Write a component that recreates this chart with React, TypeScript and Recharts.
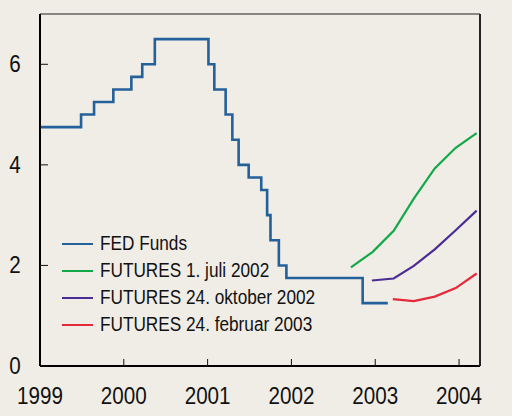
import React from 'react';
import { LineChart, Line, XAxis, YAxis, ReferenceLine } from 'recharts';

// decimal years
const fedX = [1999.0, 1999.49, 1999.645, 1999.875, 2000.09, 2000.22, 2000.37, 2001.01, 2001.08, 2001.215, 2001.295, 2001.37, 2001.49, 2001.64, 2001.71, 2001.75, 2001.85, 2001.94, 2002.85, 2003.15];
const fedY = [4.75, 5.0, 5.25, 5.5, 5.75, 6.0, 6.5, 6.0, 5.5, 5.0, 4.5, 4.0, 3.75, 3.5, 3.0, 2.5, 2.0, 1.75, 1.25, 1.25];

const julX = [2002.71, 2002.97, 2003.22, 2003.46, 2003.71, 2003.96, 2004.21];
const julY = [1.96, 2.27, 2.69, 3.33, 3.93, 4.34, 4.63];

const oktX = [2002.96, 2003.22, 2003.46, 2003.71, 2003.96, 2004.21];
const oktY = [1.70, 1.74, 1.99, 2.32, 2.70, 3.09];

const febX = [2003.21, 2003.46, 2003.71, 2003.96, 2004.21];
const febY = [1.33, 1.29, 1.38, 1.55, 1.84];

const yearTicks = [1999, 2000, 2001, 2002, 2003, 2004];
const rateTicks = [0, 2, 4, 6];

const toRows = (xs: number[], ys: number[]) => xs.map((x, i) => ({ x, y: ys[i] }));

const series = [
    { name: 'FED Funds', color: '#24609a', data: toRows(fedX, fedY), type: 'stepAfter' as const },
    { name: 'FUTURES 1. juli 2002', color: '#13a848', data: toRows(julX, julY), type: 'linear' as const },
    { name: 'FUTURES 24. oktober 2002', color: '#4a2c94', data: toRows(oktX, oktY), type: 'linear' as const },
    { name: 'FUTURES 24. februar 2003', color: '#e5283a', data: toRows(febX, febY), type: 'linear' as const },
];

const FONT = '"Liberation Sans", Arial, sans-serif';
const BG = '#f0ede6';
const SQUEEZE = 0.86;

const Label = ({ x, y, value }: { x: number; y: number; value: number }) => (
    <text
        transform={`translate(${x},${y}) scale(${SQUEEZE},1)`}
        textAnchor="middle"
        dominantBaseline="central"
        fontSize={24}
        fontFamily={FONT}
        fill="#111"
    >
        {value}
    </text>
);

const LeftTick = ({ x, y, payload }: any) => (
    <g>
        <line x1={x} x2={x + 8} y1={y} y2={y} stroke="#111" strokeWidth={1} />
        <Label x={x - 25} y={y} value={payload.value} />
    </g>
);

const RightTick = ({ x, y, payload }: any) => (
    <g>
        <line x1={x - 8} x2={x} y1={y} y2={y} stroke="#111" strokeWidth={1} />
        <Label x={x + 24} y={y} value={payload.value} />
    </g>
);

const BottomTick = ({ x, y, payload }: any) => (
    <g>
        {payload.value !== 1999 && <line x1={x} x2={x} y1={y - 7} y2={y} stroke="#111" strokeWidth={1} />}
        <Label x={x} y={y + 30} value={payload.value} />
    </g>
);

export default function App() {
    return (
        <div style={{ position: 'absolute', left: 0, top: 0, width: 512, height: 416, background: BG }}>
            <LineChart width={512} height={416} margin={{ top: 14, right: 0, bottom: 0, left: 0 }}>
                <XAxis
                    xAxisId="b"
                    dataKey="x"
                    type="number"
                    domain={[1999, 2004.25]}
                    ticks={yearTicks}
                    height={50}
                    allowDataOverflow
                    axisLine={{ stroke: '#000', strokeWidth: 2 }}
                    tickLine={false}
                    tickSize={0}
                    tickMargin={0}
                    tick={<BottomTick />}
                    interval={0}
                />
                <YAxis
                    yAxisId="l"
                    domain={[0, 7]}
                    ticks={rateTicks}
                    width={40}
                    axisLine={{ stroke: '#000', strokeWidth: 2 }}
                    tickLine={false}
                    tickSize={0}
                    tickMargin={0}
                    tick={<LeftTick />}
                    interval={0}
                />
                <YAxis
                    yAxisId="r"
                    orientation="right"
                    domain={[0, 7]}
                    ticks={rateTicks}
                    width={32}
                    axisLine={{ stroke: '#222', strokeWidth: 2 }}
                    tickLine={false}
                    tickSize={0}
                    tickMargin={0}
                    tick={<RightTick />}
                    interval={0}
                />
                <ReferenceLine xAxisId="b" yAxisId="l" y={7} stroke="#222" strokeWidth={1.2} />
                {series.map((s) => (
                    <Line
                        key={s.name}
                        xAxisId="b"
                        yAxisId="l"
                        data={s.data}
                        dataKey="y"
                        name={s.name}
                        type={s.type}
                        stroke={s.color}
                        strokeWidth={s.name === 'FED Funds' ? 2.6 : 2.2}
                        dot={false}
                        activeDot={false}
                        isAnimationActive={false}
                    />
                ))}
            </LineChart>
            <div style={{ position: 'absolute', left: 62, top: 230, fontFamily: FONT, fontSize: 20, color: '#111' }}>
                {series.map((s) => (
                    <div key={s.name} style={{ display: 'flex', alignItems: 'center', height: 27, whiteSpace: 'nowrap' }}>
                        <div style={{ width: 31, height: 2, background: s.color, marginRight: 7, flexShrink: 0 }} />
                        <span style={{ display: 'inline-block', transform: `scaleX(${SQUEEZE})`, transformOrigin: 'left center' }}>
                            {s.name}
                        </span>
                    </div>
                ))}
            </div>
        </div>
    );
}
